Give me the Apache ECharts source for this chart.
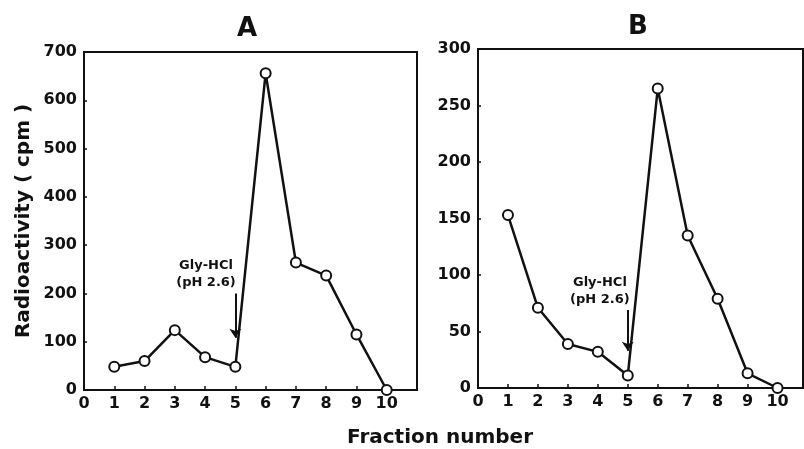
<!DOCTYPE html>
<html>
<head>
<meta charset="utf-8">
<script src="https://cdn.jsdelivr.net/npm/echarts@6/dist/echarts.min.js"></script>
<style>
	html, body { margin: 0; padding: 0; background: #fff; }
	#chart { width: 804px; height: 449px; }
</style>
</head>
<body>
<div id="chart"></div>
<script>
// fraction numbers on the x axis
var fractions = [1, 2, 3, 4, 5, 6, 7, 8, 9, 10];
// panel A radioactivity (cpm)
var radioA = [48, 60, 124, 68, 48, 656, 264, 237, 115, 0];
// panel B radioactivity (cpm)
var radioB = [153, 71, 39, 32, 11, 265, 135, 79, 13, 0];
// axis ranges
var yMaxA = 700, yStepA = 100;
var yMaxB = 300, yStepB = 50;
var xMaxA = 11;
var xMaxB = 10.85; // right edge of panel B is cut by the page
// elution note
var noteText = 'Gly-HCl\n(pH 2.6)';

var FONT = 'DejaVu Sans';
var INK = '#111';

function pairs(ys) {
	return fractions.map(function (x, i) { return [x, ys[i]]; });
}

function xAxisFor(gridIndex, max) {
	return {
		type: 'value', gridIndex: gridIndex, min: 0, max: max, interval: 1,
		axisLine: { lineStyle: { color: INK, width: 2 } },
		axisTick: { inside: true, length: 4, lineStyle: { color: INK, width: 1.5 } },
		axisLabel: {
			color: INK, fontFamily: FONT, fontWeight: 'bold', fontSize: 16, margin: 6,
			formatter: function (v) { return v > 10 ? '' : v; }
		},
		splitLine: { show: false }
	};
}

function yAxisFor(gridIndex, max, step, name) {
	return {
		type: 'value', gridIndex: gridIndex, min: 0, max: max, interval: step,
		name: name, nameLocation: 'middle', nameGap: 50,
		nameTextStyle: { color: INK, fontFamily: FONT, fontWeight: 'bold', fontSize: 20 },
		axisLine: { lineStyle: { color: INK, width: 2 } },
		axisTick: { inside: true, length: 3, lineStyle: { color: INK, width: 1.5 } },
		axisLabel: { color: INK, fontFamily: FONT, fontWeight: 'bold', fontSize: 16, margin: 7 },
		splitLine: { show: false }
	};
}

function seriesFor(idx, ys, arrowFrom, arrowTo, notePos) {
	return {
		type: 'line', xAxisIndex: idx, yAxisIndex: idx,
		data: pairs(ys),
		symbol: 'circle', symbolSize: 10,
		itemStyle: { color: '#fff', borderColor: INK, borderWidth: 2 },
		lineStyle: { color: INK, width: 2.5 },
		animation: false,
		markLine: {
			silent: true, animation: false,
			symbol: ['none', 'arrow'], symbolSize: 9,
			lineStyle: { color: INK, width: 2, type: 'solid' },
			label: { show: false },
			data: [[{ coord: arrowFrom }, { coord: arrowTo }]]
		},
		markPoint: {
			silent: true, animation: false,
			symbol: 'circle', symbolSize: 1,
			itemStyle: { color: 'rgba(0,0,0,0)' },
			label: {
				show: true, position: 'inside', formatter: noteText,
				color: INK, fontFamily: FONT, fontWeight: 'bold', fontSize: 13, lineHeight: 17
			},
			data: [{ coord: notePos }]
		}
	};
}

var myChart = echarts.init(document.getElementById('chart'));
var option = {
	backgroundColor: '#fff',
	title: [
		{ text: 'A', left: 237, top: 16, padding: 0,
			textStyle: { color: INK, fontFamily: FONT, fontWeight: 'bold', fontSize: 26 } },
		{ text: 'B', left: 628, top: 14, padding: 0,
			textStyle: { color: INK, fontFamily: FONT, fontWeight: 'bold', fontSize: 26 } },
		{ text: 'Fraction number', left: 347, top: 428, padding: 0,
			textStyle: { color: INK, fontFamily: FONT, fontWeight: 'bold', fontSize: 20 } }
	],
	grid: [
		{ left: 84, top: 52, width: 333, height: 338, outerBoundsMode: 'none',
			show: true, borderColor: INK, borderWidth: 2 },
		{ left: 478, top: 49, width: 325, height: 339, outerBoundsMode: 'none',
			show: true, borderColor: INK, borderWidth: 2 }
	],
	xAxis: [xAxisFor(0, xMaxA), xAxisFor(1, xMaxB)],
	yAxis: [yAxisFor(0, yMaxA, yStepA, 'Radioactivity ( cpm )'), yAxisFor(1, yMaxB, yStepB, '')],
	series: [
		seriesFor(0, radioA, [5, 200], [5, 108], [4.03, 241]),
		seriesFor(1, radioB, [5, 69], [5, 33], [4.07, 86])
	]
};
myChart.setOption(option);
</script>
</body>
</html>
